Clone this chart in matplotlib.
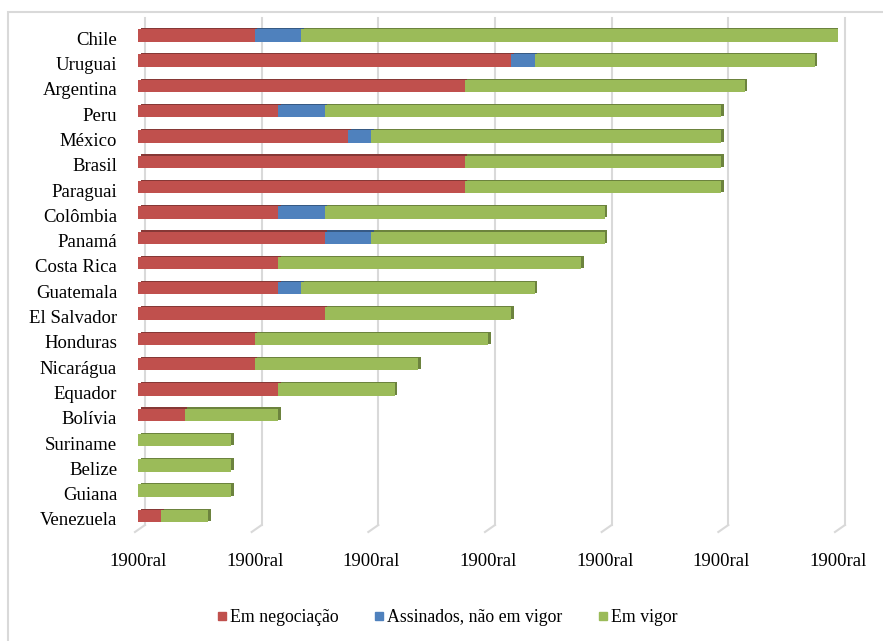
#!/usr/bin/env python3
# -*- coding: utf-8 -*-

import matplotlib
matplotlib.use("Agg")
import matplotlib.pyplot as plt
import matplotlib.patheffects as pe
import matplotlib.transforms as mtransforms
from matplotlib.lines import Line2D
from matplotlib.patches import Rectangle

# ====== DATA ======
paises = ["Chile", "Uruguai", "Argentina", "Peru", "México", "Brasil", "Paraguai",
          "Colômbia", "Panamá", "Costa Rica", "Guatemala", "El Salvador", "Honduras",
          "Nicarágua", "Equador", "Bolívia", "Suriname", "Belize", "Guiana", "Venezuela"]
em_negociacao = [5, 16, 14, 6, 9, 14, 14, 6, 8, 6, 6, 8, 5, 5, 6, 2, 0, 0, 0, 1]
assinados = [2, 1, 0, 2, 1, 0, 0, 2, 2, 0, 1, 0, 0, 0, 0, 0, 0, 0, 0, 0]
em_vigor = [23, 12, 12, 17, 15, 11, 11, 12, 10, 13, 10, 8, 10, 7, 5, 4, 4, 4, 4, 2]
x_ticks = [0, 5, 10, 15, 20, 25, 30]
x_ticklabels = ["1900ral"] * len(x_ticks)
series_names = ["Em negociação", "Assinados, não em vigor", "Em vigor"]

# ====== STYLE ======
W, H = 883, 641
colors = ["#C0504D", "#4F81BD", "#9BBB59"]
grid_color = "#D9D9D9"
plt.rcParams["font.family"] = ["Liberation Serif", "DejaVu Serif"]
FS_AX = 13.5
FS_LEG = 12.8

fig = plt.figure(figsize=(W / 100, H / 100), dpi=100)
ax = fig.add_axes([138 / W, 1 - 525 / H, 700 / W, 507 / H])

# rámeček grafu (jen horní a levá hrana je vidět)
fig.patches.append(Rectangle((8 / W, -0.1), 2.0, 1 - 12 / H + 0.1,
                             transform=fig.transFigure, fill=False,
                             edgecolor=grid_color, linewidth=1.5))

n = len(paises)
ypos = list(range(n))
left = [0] * n
shadow = [pe.SimplePatchShadow(offset=(2, 0.8), shadow_rgbFace=None, alpha=1, rho=0.7),
          pe.Normal()]
for vals, col, name in zip([em_negociacao, assinados, em_vigor], colors, series_names):
    bars = ax.barh(ypos, vals, left=left, height=0.49, color=col, edgecolor="none",
                   label=name, zorder=3)
    for b in bars:
        if b.get_width() > 0:
            b.set_path_effects(shadow)
    left = [l + v for l, v in zip(left, vals)]

ax.set_xlim(0, 30)
ax.set_ylim(n - 1 + 0.356, -0.684)

# mřížka s "3D" patkou
u = 30 / 700  # jednotky na pixel
xtr = ax.get_xaxis_transform()
for v in x_ticks:
    ax.plot([v + 7 * u, v + 7 * u], [1, 0], color=grid_color, lw=1.5,
            transform=xtr, clip_on=False, zorder=1)
    ax.plot([v + 7 * u, v - 3 * u], [0, -7 / 507], color=grid_color, lw=1.5,
            transform=xtr, clip_on=False, zorder=1)

for s in ax.spines.values():
    s.set_visible(False)

ax.set_xticks(x_ticks)
ax.set_xticklabels(x_ticklabels, fontsize=FS_AX)
ax.set_yticks(ypos)
ax.set_yticklabels(paises, fontsize=FS_AX)
ax.tick_params(axis="x", length=0, pad=20)
ax.tick_params(axis="y", length=0, pad=15)

# popisky zemí mírně níž (perspektiva)
off = mtransforms.ScaledTranslation(0, -3 / 100, fig.dpi_scale_trans)
for lbl in ax.get_yticklabels():
    lbl.set_transform(lbl.get_transform() + off)

handles = [Line2D([], [], marker="s", linestyle="", markersize=6, color=c) for c in colors]
fig.legend(handles, series_names, loc="center", bbox_to_anchor=(447 / W, 1 - 618 / H),
           ncol=3, frameon=False, fontsize=FS_LEG, handlelength=0.6, handletextpad=0.15,
           columnspacing=2.0)

fig.savefig("out.png", dpi=100)
